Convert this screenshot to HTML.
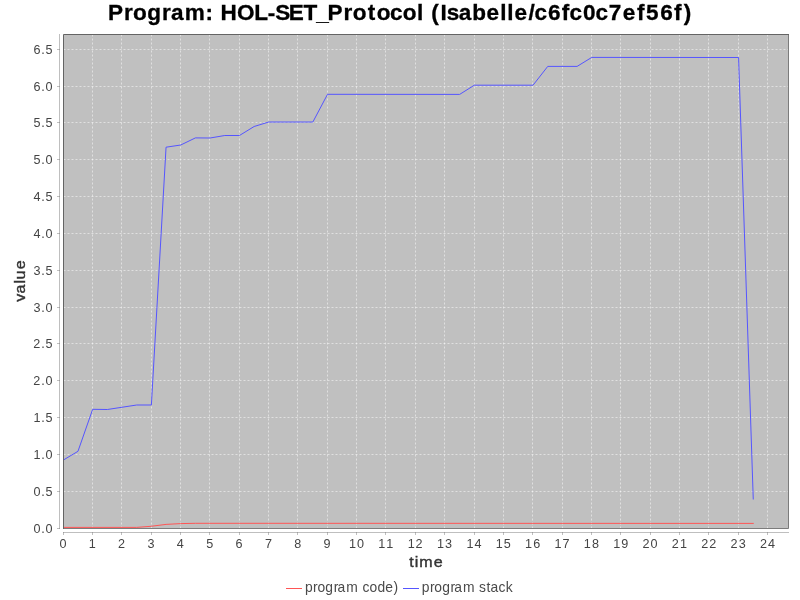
<!DOCTYPE html>
<html><head><meta charset="utf-8"><style>
html,body{margin:0;padding:0;background:#ffffff;width:800px;height:600px;overflow:hidden}
#c{position:absolute;left:0;top:0;width:800px;height:600px;will-change:transform}
svg{display:block}
</style></head><body>
<div id="c"><svg width="800" height="600" viewBox="0 0 800 600">
<rect width="800" height="600" fill="#ffffff"/>
<rect x="63.5" y="34.5" width="725" height="494" fill="#c0c0c0"/>
<path d="M92.5 34.5V528M121.5 34.5V528M151.5 34.5V528M180.5 34.5V528M209.5 34.5V528M239.5 34.5V528M268.5 34.5V528M297.5 34.5V528M327.5 34.5V528M356.5 34.5V528M385.5 34.5V528M415.5 34.5V528M444.5 34.5V528M474.5 34.5V528M503.5 34.5V528M532.5 34.5V528M562.5 34.5V528M591.5 34.5V528M620.5 34.5V528M650.5 34.5V528M679.5 34.5V528M708.5 34.5V528M738.5 34.5V528M767.5 34.5V528M63.5 491.5H788M63.5 454.5H788M63.5 417.5H788M63.5 380.5H788M63.5 343.5H788M63.5 307.5H788M63.5 270.5H788M63.5 233.5H788M63.5 196.5H788M63.5 159.5H788M63.5 122.5H788M63.5 86.5H788M63.5 49.5H788" stroke="#ffffff" stroke-opacity="0.5" stroke-width="1" stroke-dasharray="2 2" fill="none"/>
<clipPath id="pc"><rect x="63" y="34" width="726" height="495"/></clipPath><g clip-path="url(#pc)">
<path d="M63.30 527.40 L136.70 527.40 L151.38 526.25 L166.06 524.40 L180.74 523.60 L195.42 523.30 L753.26 523.40" stroke="#ff5555" stroke-width="1" fill="none" stroke-linecap="square"/>
<path d="M63.30 460.10 L77.98 451.30 L92.66 409.30 L107.34 409.50 L136.70 405.00 L151.38 405.00 L166.06 147.20 L180.74 145.00 L195.42 137.90 L210.10 138.00 L224.78 135.50 L239.46 135.50 L254.14 126.50 L268.82 122.00 L312.86 122.00 L327.54 94.30 L459.66 94.40 L474.34 85.20 L533.06 85.20 L547.74 66.40 L577.10 66.40 L591.78 57.40 L738.58 57.50 L753.26 499.00" stroke="#5555ff" stroke-width="1" fill="none" stroke-linecap="square"/></g>
<path d="M63.5 529V34.5H789" fill="none" stroke="#646464" stroke-width="1"/>
<path d="M788.5 35V528.5H64" fill="none" stroke="#7c7c7c" stroke-width="1"/>
<path d="M59.5 34V529M63 532.5H789" stroke="#808080" stroke-opacity="0.5" stroke-width="1" fill="none"/>
<path d="M57 528.5H60M57 491.5H60M57 454.5H60M57 417.5H60M57 380.5H60M57 343.5H60M57 307.5H60M57 270.5H60M57 233.5H60M57 196.5H60M57 159.5H60M57 122.5H60M57 86.5H60M57 49.5H60M63.5 532V535M92.5 532V535M121.5 532V535M151.5 532V535M180.5 532V535M209.5 532V535M239.5 532V535M268.5 532V535M297.5 532V535M327.5 532V535M356.5 532V535M385.5 532V535M415.5 532V535M444.5 532V535M474.5 532V535M503.5 532V535M532.5 532V535M562.5 532V535M591.5 532V535M620.5 532V535M650.5 532V535M679.5 532V535M708.5 532V535M738.5 532V535M767.5 532V535" stroke="#808080" stroke-opacity="0.5" stroke-width="1" fill="none"/>
<g><text transform="scale(1.0,1)" x="33.53 41.37 45.53" y="533" font-family="Liberation Sans" font-weight="normal" font-size="12.6" fill="#444444" >0.0</text><text transform="scale(1.0,1)" x="33.53 41.37 45.48" y="496" font-family="Liberation Sans" font-weight="normal" font-size="12.6" fill="#444444" >0.5</text><text transform="scale(1.0,1)" x="33.47 41.37 45.53" y="459" font-family="Liberation Sans" font-weight="normal" font-size="12.6" fill="#444444" >1.0</text><text transform="scale(1.0,1)" x="33.47 41.37 45.48" y="422" font-family="Liberation Sans" font-weight="normal" font-size="12.6" fill="#444444" >1.5</text><text transform="scale(1.0,1)" x="33.37 41.37 45.53" y="385" font-family="Liberation Sans" font-weight="normal" font-size="12.6" fill="#444444" >2.0</text><text transform="scale(1.0,1)" x="33.37 41.37 45.48" y="348" font-family="Liberation Sans" font-weight="normal" font-size="12.6" fill="#444444" >2.5</text><text transform="scale(1.0,1)" x="33.55 41.37 45.53" y="312" font-family="Liberation Sans" font-weight="normal" font-size="12.6" fill="#444444" >3.0</text><text transform="scale(1.0,1)" x="33.55 41.37 45.48" y="275" font-family="Liberation Sans" font-weight="normal" font-size="12.6" fill="#444444" >3.5</text><text transform="scale(1.0,1)" x="33.53 41.37 45.53" y="238" font-family="Liberation Sans" font-weight="normal" font-size="12.6" fill="#444444" >4.0</text><text transform="scale(1.0,1)" x="33.53 41.37 45.48" y="201" font-family="Liberation Sans" font-weight="normal" font-size="12.6" fill="#444444" >4.5</text><text transform="scale(1.0,1)" x="33.48 41.37 45.53" y="164" font-family="Liberation Sans" font-weight="normal" font-size="12.6" fill="#444444" >5.0</text><text transform="scale(1.0,1)" x="33.48 41.37 45.48" y="127" font-family="Liberation Sans" font-weight="normal" font-size="12.6" fill="#444444" >5.5</text><text transform="scale(1.0,1)" x="33.53 41.37 45.53" y="91" font-family="Liberation Sans" font-weight="normal" font-size="12.6" fill="#444444" >6.0</text><text transform="scale(1.0,1)" x="33.53 41.37 45.48" y="54" font-family="Liberation Sans" font-weight="normal" font-size="12.6" fill="#444444" >6.5</text><text transform="scale(1.0,1)" x="59.41" y="548" font-family="Liberation Sans" font-weight="normal" font-size="12.6" fill="#444444" >0</text><text transform="scale(1.0,1)" x="88.71" y="548" font-family="Liberation Sans" font-weight="normal" font-size="12.6" fill="#444444" >1</text><text transform="scale(1.0,1)" x="117.97" y="548" font-family="Liberation Sans" font-weight="normal" font-size="12.6" fill="#444444" >2</text><text transform="scale(1.0,1)" x="147.51" y="548" font-family="Liberation Sans" font-weight="normal" font-size="12.6" fill="#444444" >3</text><text transform="scale(1.0,1)" x="176.85" y="548" font-family="Liberation Sans" font-weight="normal" font-size="12.6" fill="#444444" >4</text><text transform="scale(1.0,1)" x="206.16" y="548" font-family="Liberation Sans" font-weight="normal" font-size="12.6" fill="#444444" >5</text><text transform="scale(1.0,1)" x="235.57" y="548" font-family="Liberation Sans" font-weight="normal" font-size="12.6" fill="#444444" >6</text><text transform="scale(1.0,1)" x="264.91" y="548" font-family="Liberation Sans" font-weight="normal" font-size="12.6" fill="#444444" >7</text><text transform="scale(1.0,1)" x="294.29" y="548" font-family="Liberation Sans" font-weight="normal" font-size="12.6" fill="#444444" >8</text><text transform="scale(1.0,1)" x="323.61" y="548" font-family="Liberation Sans" font-weight="normal" font-size="12.6" fill="#444444" >9</text><text transform="scale(1.0,1)" x="348.95 357.01" y="548" font-family="Liberation Sans" font-weight="normal" font-size="12.6" fill="#444444" >10</text><text transform="scale(1.0,1)" x="378.31 386.31" y="548" font-family="Liberation Sans" font-weight="normal" font-size="12.6" fill="#444444" >11</text><text transform="scale(1.0,1)" x="407.67 415.57" y="548" font-family="Liberation Sans" font-weight="normal" font-size="12.6" fill="#444444" >12</text><text transform="scale(1.0,1)" x="437.03 445.11" y="548" font-family="Liberation Sans" font-weight="normal" font-size="12.6" fill="#444444" >13</text><text transform="scale(1.0,1)" x="466.39 474.45" y="548" font-family="Liberation Sans" font-weight="normal" font-size="12.6" fill="#444444" >14</text><text transform="scale(1.0,1)" x="495.75 503.76" y="548" font-family="Liberation Sans" font-weight="normal" font-size="12.6" fill="#444444" >15</text><text transform="scale(1.0,1)" x="525.11 533.17" y="548" font-family="Liberation Sans" font-weight="normal" font-size="12.6" fill="#444444" >16</text><text transform="scale(1.0,1)" x="554.47 562.51" y="548" font-family="Liberation Sans" font-weight="normal" font-size="12.6" fill="#444444" >17</text><text transform="scale(1.0,1)" x="583.83 591.89" y="548" font-family="Liberation Sans" font-weight="normal" font-size="12.6" fill="#444444" >18</text><text transform="scale(1.0,1)" x="613.19 621.21" y="548" font-family="Liberation Sans" font-weight="normal" font-size="12.6" fill="#444444" >19</text><text transform="scale(1.0,1)" x="642.45 650.61" y="548" font-family="Liberation Sans" font-weight="normal" font-size="12.6" fill="#444444" >20</text><text transform="scale(1.0,1)" x="671.81 679.91" y="548" font-family="Liberation Sans" font-weight="normal" font-size="12.6" fill="#444444" >21</text><text transform="scale(1.0,1)" x="701.17 709.17" y="548" font-family="Liberation Sans" font-weight="normal" font-size="12.6" fill="#444444" >22</text><text transform="scale(1.0,1)" x="730.53 738.71" y="548" font-family="Liberation Sans" font-weight="normal" font-size="12.6" fill="#444444" >23</text><text transform="scale(1.0,1)" x="759.89 768.05" y="548" font-family="Liberation Sans" font-weight="normal" font-size="12.6" fill="#444444" >24</text></g>
<text transform="scale(1.07,1)" x="382.40 387.68 391.77 405.37" y="567" font-family="Liberation Sans" font-weight="normal" font-size="15.0" fill="#333333" stroke="#333333" stroke-width="0.4">time</text>
<text transform="translate(25.4,301.8) rotate(-90) scale(1.07,1)" x="0.06 7.83 17.06 20.89 30.35" y="0" font-family="Liberation Sans" font-weight="normal" font-size="15.0" fill="#333333" stroke="#333333" stroke-width="0.4">value</text>
<text transform="scale(1.035,1)" x="104.37 119.70 128.61 142.36 156.50 165.16 178.41 198.60 206.46 213.12 229.11 245.56 258.80 265.96 278.93 293.21 305.62 316.48 331.81 340.73 355.20 363.97 376.88 389.15 403.02 409.86 416.60 425.56 431.58 443.14 456.37 469.95 483.41 490.19 497.07 510.73 516.35 529.38 542.83 550.25 563.22 575.43 588.27 601.67 615.47 624.26 637.86 651.31 660.65" y="20" font-family="Liberation Sans" font-weight="bold" font-size="21.8" fill="#000000" stroke="#000" stroke-width="0.3">Program: HOL-SET_Protocol (Isabelle/c6fc0c7ef56f)</text>
<path d="M286 588.5H302" stroke="#ff5555" stroke-width="1"/>
<path d="M403 588.5H419" stroke="#5555ff" stroke-width="1"/>
<text transform="scale(0.99,1)" x="307.99 316.21 320.67 328.67 337.04 341.00 349.86 362.31 366.13 373.24 381.24 389.15 397.53" y="592" font-family="Liberation Sans" font-weight="normal" font-size="14.0" fill="#4a4a4a" >program code)</text>
<text transform="scale(0.99,1)" x="426.05 434.23 438.65 446.61 454.93 458.87 467.66 480.06 483.91 491.41 495.35 503.56 510.89" y="592" font-family="Liberation Sans" font-weight="normal" font-size="14.0" fill="#4a4a4a" >program stack</text>
</svg></div>
</body></html>
